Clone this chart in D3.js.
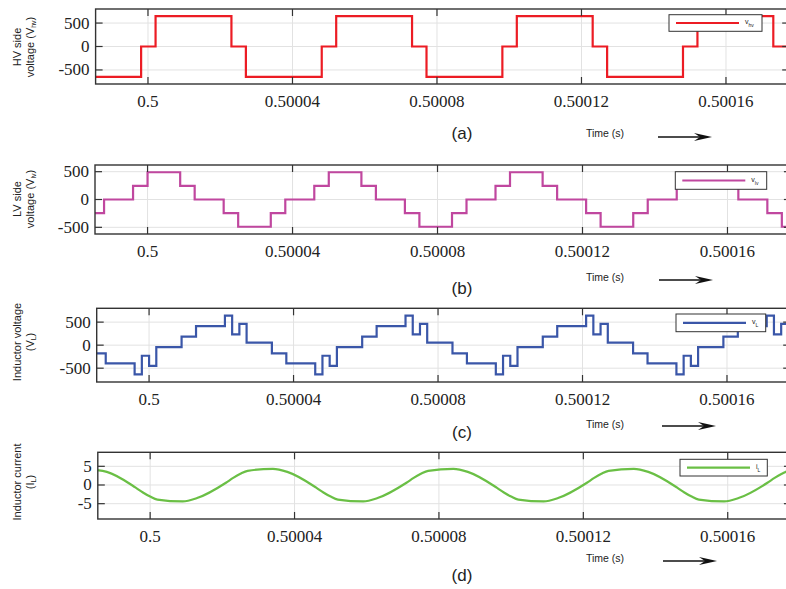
<!DOCTYPE html>
<html>
<head>
<meta charset="utf-8">
<script src="https://cdn.jsdelivr.net/npm/d3@7"></script>
<style>
  body { margin: 0; background: #fff; }
  svg { display: block; }
  .tick-label { font-family: "Liberation Serif", "DejaVu Serif", serif; font-size: 17px; fill: #222; }
  .sans { font-family: "Liberation Sans", Arial, sans-serif; fill: #222; }
</style>
</head>
<body>
<svg id="chart" width="786" height="589"></svg>
<script>
// time axis (seconds) and tick labels
var xTicks = [0.5, 0.50004, 0.50008, 0.50012, 0.50016];
var xTickLabels = ["0.5", "0.50004", "0.50008", "0.50012", "0.50016"];
var timeDomain = [0.4999855, 0.5001775];

// (a) HV side voltage, step waveform: time in us after 0.5 s, level after the step
var vhvT = [-15, -1.9, 2.1, 23.1, 27.1, 48.1, 52.1, 73.1, 77.1, 98.1, 102.1, 123.1, 127.1, 148.1, 152.1, 173.1, 177.1];
var vhvV = [-650, 0, 650, 0, -650, 0, 650, 0, -650, 0, 650, 0, -650, 0, 650, 0, -650];

// (b) LV side voltage
var vlvT = [-15, -12, -4, 0, 9, 13, 21, 25, 34, 38, 46, 50, 59, 63, 71, 75, 84, 88, 96, 100, 109, 113, 121, 125, 134, 138, 146, 150, 159, 163, 171, 175];
var vlvV = [-245, 0, 245, 490, 245, 0, -245, -490, -245, 0, 245, 490, 245, 0, -245, -490, -245, 0, 245, 490, 245, 0, -245, -490, -245, 0, 245, 490, 245, 0, -245, -490];

// (c) inductor voltage
var vLT = [-15, -12, -4, -2, 0, 2, 9, 13, 21, 23, 25, 27, 34, 38, 46, 48, 50, 52, 59, 63, 71, 73, 75, 77, 84, 88, 96, 98, 100, 102, 109, 113, 121, 123, 125, 127, 134, 138, 146, 148, 150, 152, 159, 163, 171, 173, 175, 177];
var vLV = [-180, -395, -635, -230, -450, -45, 185, 415, 640, 235, 460, 55, -180, -395, -635, -230, -450, -45, 185, 415, 640, 235, 460, 55, -180, -395, -635, -230, -450, -45, 185, 415, 640, 235, 460, 55, -180, -395, -635, -230, -450, -45, 185, 415, 640, 235, 460, 55];

// (d) inductor current
var iLT = [-15, -12, -4, -2, 0, 2, 9, 13, 21, 23, 25, 27, 34, 38, 46, 48, 50, 52, 59, 63, 71, 73, 75, 77, 84, 88, 96, 98, 100, 102, 109, 113, 121, 123, 125, 127, 134, 138, 146, 148, 150, 152, 159, 163, 171, 173, 175, 177, 184];
var iLV = [4.0, 3.5, -0.7, -2.0, -3.1, -3.9, -4.4, -3.5, 0.6, 1.9, 3.0, 3.8, 4.3, 3.5, -0.7, -2.0, -3.1, -3.9, -4.4, -3.5, 0.6, 1.9, 3.0, 3.8, 4.3, 3.5, -0.7, -2.0, -3.1, -3.9, -4.4, -3.5, 0.6, 1.9, 3.0, 3.8, 4.3, 3.5, -0.7, -2.0, -3.1, -3.9, -4.4, -3.5, 0.6, 1.9, 3.0, 3.8, 4.3];

var panels = [
    {id: 'a', t: vhvT, v: vhvV, step: true, color: '#ec1c24', x0: 95.6, x1: 789.2, top: 9, bottom: 84,
     yDomain: [-800, 800], yTicks: [-500, 0, 500],
     ylab: [['HV side'], ['voltage (V', 'hv', ')']], ylabY: 47,
     legend: {x: 669, y: 14.7, w: 93, h: 16.6, main: 'v', sub: 'hv'},
     capY: 133, timeY: 133, arrowY: 137, arrowX: 658},
    {id: 'b', t: vlvT, v: vlvV, step: true, color: '#c0479f', x0: 95, x1: 790.9, top: 165, bottom: 234,
     yDomain: [-620, 620], yTicks: [-500, 0, 500],
     ylab: [['LV side'], ['voltage (V', 'lv', ')']], ylabY: 199,
     legend: {x: 675.3, y: 171.7, w: 91.4, h: 17.6, main: 'v', sub: 'lv'},
     capY: 288, timeY: 277, arrowY: 280, arrowX: 659},
    {id: 'c', t: vLT, v: vLV, step: true, color: '#3a56a8', x0: 96.7, x1: 790.2, top: 308.3, bottom: 382,
     yDomain: [-800, 800], yTicks: [-500, 0, 500],
     ylab: [['Inductor voltage'], ['(V', 'L', ')']], ylabY: 342,
     legend: {x: 676, y: 314, w: 89.7, h: 17.7, main: 'v', sub: 'L'},
     capY: 432, timeY: 424, arrowY: 426, arrowX: 662},
    {id: 'd', t: iLT, v: iLV, step: false, color: '#6abf45', x0: 97.8, x1: 790.9, top: 452.3, bottom: 519,
     yDomain: [-9.1, 8.75], yTicks: [-5, 0, 5],
     ylab: [['Inductor current'], ['(I', 'L', ')']], ylabY: 482,
     legend: {x: 680, y: 459.3, w: 87.3, h: 16.7, main: 'i', sub: 'L'},
     capY: 575, timeY: 558, arrowY: 561, arrowX: 663}
];

var svg = d3.select('#chart');
var tickLen = 7;

panels.forEach(function(p) {
    var x = d3.scaleLinear().domain(timeDomain).range([p.x0, p.x1]);
    var y = d3.scaleLinear().domain(p.yDomain).range([p.bottom, p.top]);
    var g = svg.append('g').attr('class', 'panel-' + p.id);

    g.append('clipPath').attr('id', 'clip-' + p.id)
        .append('rect')
        .attr('x', p.x0).attr('y', p.top)
        .attr('width', p.x1 - p.x0).attr('height', p.bottom - p.top);

    // grid
    g.selectAll('.gx').data(xTicks).enter().append('line')
        .attr('x1', function(d){ return x(d); }).attr('x2', function(d){ return x(d); })
        .attr('y1', p.top).attr('y2', p.bottom)
        .attr('stroke', '#e2e2e2').attr('stroke-width', 1);
    g.selectAll('.gy').data(p.yTicks).enter().append('line')
        .attr('x1', p.x0).attr('x2', p.x1)
        .attr('y1', function(d){ return y(d); }).attr('y2', function(d){ return y(d); })
        .attr('stroke', '#e2e2e2').attr('stroke-width', 1);

    // waveform
    var pts = p.t.map(function(t, i){ return [0.5 + t * 1e-6, p.v[i]]; });
    if (p.step) {
        pts.push([timeDomain[1] + 1e-5, p.v[p.v.length - 1]]);
    }
    var line = d3.line()
        .x(function(d){ return x(d[0]); })
        .y(function(d){ return y(d[1]); })
        .curve(p.step ? d3.curveStepAfter : d3.curveMonotoneX);
    g.append('path')
        .attr('clip-path', 'url(#clip-' + p.id + ')')
        .attr('d', line(pts))
        .attr('fill', 'none')
        .attr('stroke', p.color)
        .attr('stroke-width', 2.2)
        .attr('stroke-linejoin', 'miter');

    // frame + inward ticks
    g.append('rect')
        .attr('x', p.x0).attr('y', p.top)
        .attr('width', p.x1 - p.x0).attr('height', p.bottom - p.top)
        .attr('fill', 'none').attr('stroke', '#333').attr('stroke-width', 1.4);
    xTicks.forEach(function(d) {
        g.append('line').attr('x1', x(d)).attr('x2', x(d))
            .attr('y1', p.bottom).attr('y2', p.bottom - tickLen)
            .attr('stroke', '#333').attr('stroke-width', 1.2);
        g.append('line').attr('x1', x(d)).attr('x2', x(d))
            .attr('y1', p.top).attr('y2', p.top + tickLen)
            .attr('stroke', '#333').attr('stroke-width', 1.2);
    });
    p.yTicks.forEach(function(d) {
        g.append('line').attr('x1', p.x0).attr('x2', p.x0 + tickLen)
            .attr('y1', y(d)).attr('y2', y(d))
            .attr('stroke', '#333').attr('stroke-width', 1.2);
        g.append('line').attr('x1', p.x1).attr('x2', p.x1 - tickLen)
            .attr('y1', y(d)).attr('y2', y(d))
            .attr('stroke', '#333').attr('stroke-width', 1.2);
    });

    // tick labels
    g.selectAll('.xl').data(xTicks).enter().append('text')
        .attr('class', 'tick-label')
        .attr('x', function(d){ return x(d); })
        .attr('y', p.bottom + 17)
        .attr('text-anchor', 'middle')
        .attr('dominant-baseline', 'central')
        .text(function(d, i){ return xTickLabels[i]; });
    g.selectAll('.yl').data(p.yTicks).enter().append('text')
        .attr('class', 'tick-label')
        .attr('x', p.x0 - 6)
        .attr('y', function(d){ return y(d); })
        .attr('text-anchor', 'end')
        .attr('dominant-baseline', 'central')
        .text(function(d){ return d; });

    // y label, two rotated lines
    p.ylab.forEach(function(parts, i) {
        var lx = i == 0 ? 16.5 : 29.5;
        var t = g.append('text').attr('class', 'sans')
            .attr('transform', 'translate(' + lx + ',' + p.ylabY + ') rotate(-90)')
            .attr('text-anchor', 'middle')
            .attr('dominant-baseline', 'central')
            .style('font-size', '11px');
        t.append('tspan').text(parts[0]);
        if (parts.length > 1) {
            t.append('tspan').attr('baseline-shift', 'sub').style('font-size', '7px').text(parts[1]);
            t.append('tspan').text(parts[2]);
        }
    });

    // legend
    var L = p.legend;
    g.append('rect').attr('x', L.x).attr('y', L.y).attr('width', L.w).attr('height', L.h)
        .attr('fill', '#fff').attr('stroke', '#333').attr('stroke-width', 1);
    g.append('line').attr('x1', L.x + 7).attr('x2', L.x + 70)
        .attr('y1', L.y + L.h / 2).attr('y2', L.y + L.h / 2)
        .attr('stroke', p.color).attr('stroke-width', 2.2);
    var lt = g.append('text').attr('class', 'sans')
        .attr('x', L.x + 76).attr('y', L.y + L.h / 2 + 1)
        .style('font-size', '7px');
    lt.append('tspan').text(L.main);
    lt.append('tspan').attr('baseline-shift', 'sub').style('font-size', '5px').text(L.sub);

    // caption, time label, arrow
    g.append('text').attr('class', 'sans')
        .attr('x', 462).attr('y', p.capY)
        .attr('text-anchor', 'middle').attr('dominant-baseline', 'central')
        .style('font-size', '17px')
        .text('(' + p.id + ')');
    g.append('text').attr('class', 'sans')
        .attr('x', 605).attr('y', p.timeY)
        .attr('text-anchor', 'middle').attr('dominant-baseline', 'central')
        .style('font-size', '10.5px')
        .text('Time (s)');
    var ax = p.arrowX, ay = p.arrowY;
    g.append('line').attr('x1', ax).attr('x2', ax + 44)
        .attr('y1', ay).attr('y2', ay)
        .attr('stroke', '#111').attr('stroke-width', 1.3);
    g.append('path')
        .attr('d', 'M' + (ax + 54) + ',' + ay + 'L' + (ax + 36) + ',' + (ay - 4) +
                   'L' + (ax + 42) + ',' + ay + 'L' + (ax + 36) + ',' + (ay + 4) + 'Z')
        .attr('fill', '#111');
});
</script>
</body>
</html>
